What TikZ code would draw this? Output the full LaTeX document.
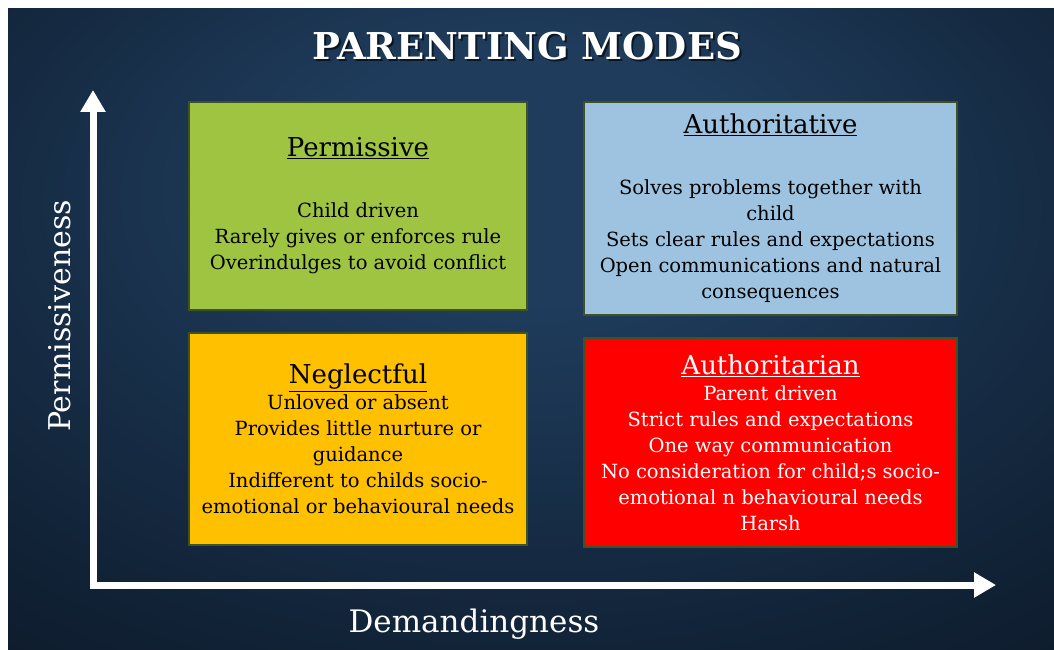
\documentclass[tikz,border=0pt]{standalone}
\usepackage{fontspec}
\setmainfont{DejaVu Serif}
\usetikzlibrary{arrows.meta}
\definecolor{bgmid}{RGB}{31,60,92}
\definecolor{bgring}{RGB}{18,36,57}
\definecolor{bgout}{RGB}{9,18,29}
\definecolor{boxgreen}{RGB}{158,196,66}
\definecolor{boxblue}{RGB}{157,195,224}
\definecolor{boxyellow}{RGB}{255,192,0}
\definecolor{boxred}{RGB}{255,0,0}
\definecolor{boxline}{RGB}{62,82,36}
\pgfdeclareradialshading{bgshade}{\pgfpoint{0bp}{14bp}}{color(0bp)=(bgmid); color(10bp)=(bgmid); color(32bp)=(bgring); color(52bp)=(bgout); color(75bp)=(bgout)}
\newcommand{\boxhead}[1]{{\fontsize{26}{30}\selectfont\underline{#1}}}

\begin{document}
\begin{tikzpicture}[x=1pt,y=-1pt,
  box/.style={draw=boxline,line width=1.5pt,align=center,inner sep=0pt,
    font=\fontsize{19.5}{26}\selectfont},
  axis/.style={draw=white,line width=7pt,{Triangle[width=24pt,length=22pt]}-{Triangle[width=24pt,length=22pt]}}]
\useasboundingbox (0,0) rectangle (1054,650);
\shade[shading=bgshade] (8,9) rectangle (1054,650);

\node[font=\fontsize{37}{44}\selectfont\bfseries,text=black,opacity=0.6] (titleshadow) at (529,48) {PARENTING MODES};
\node[font=\fontsize{37}{44}\selectfont\bfseries,text=white] (title) at (527,46) {PARENTING MODES};

\node[box,fill=boxgreen,minimum width=338pt,minimum height=208pt] (1) at (358,206)
{\boxhead{Permissive}\\[35pt]
Child driven\\
Rarely gives or enforces rule\\
Overindulges to avoid conflict};

\node[box,fill=boxblue,minimum width=373pt,minimum height=213pt] (2) at (770.5,208.5)
{\boxhead{Authoritative}\\[35pt]
Solves problems together with\\
child\\
Sets clear rules and expectations\\
Open communications and natural\\
consequences};

\node[box,fill=boxyellow,minimum width=338pt,minimum height=212pt] (3) at (358,439)
{\boxhead{Neglectful}\\
Unloved or absent\\
Provides little nurture or\\
guidance\\
Indifferent to childs socio-\\
emotional or behavioural needs};

\node[box,fill=boxred,text=white,minimum width=373pt,minimum height=209pt] (4) at (770.5,442.5)
{\boxhead{Authoritarian}\\
Parent driven\\
Strict rules and expectations\\
One way communication\\
No consideration for child;s socio-\\
emotional n behavioural needs\\
Harsh};

\coordinate (origin) at (93,585);
\coordinate (ytip) at (93,90);
\coordinate (xtip) at (996,585);
\draw[axis] (ytip) -- (origin) -- (xtip);

\node[rotate=90,text=white,font=\fontsize{30}{34}\selectfont] (ylabel) at (60,316) {Permissiveness};
\node[text=white,font=\fontsize{31}{34}\selectfont] (xlabel) at (474,624) {Demandingness};
\end{tikzpicture}
\end{document}
